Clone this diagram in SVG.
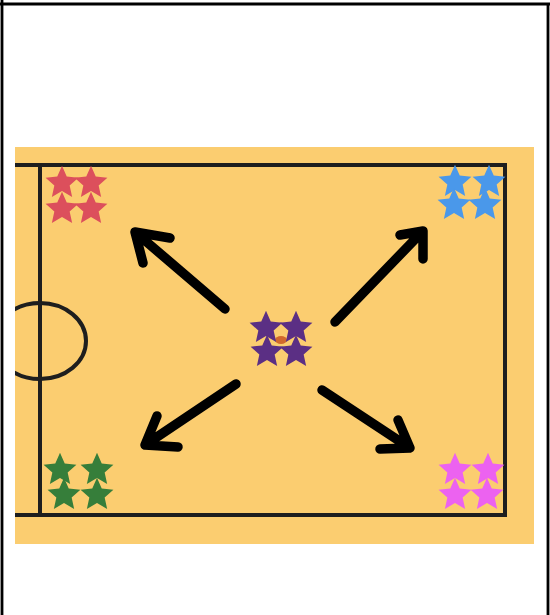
<svg xmlns="http://www.w3.org/2000/svg" xmlns:xlink="http://www.w3.org/1999/xlink" width="550" height="615" viewBox="0 0 550 615">
  <style>
    .frame { stroke: #000; stroke-width: 2.8; fill: none; }
    .court { stroke: #1e1e1e; stroke-width: 4; fill: none; }
    .arrow { stroke: #000; stroke-width: 9.5; fill: none; stroke-linecap: round; stroke-linejoin: round; }
    .red { fill: #dc4f5c; }
    .blue { fill: #4a98ea; }
    .purple { fill: #5b2f84; }
    .green { fill: #367e3a; }
    .pink { fill: #ec62f0; }
  </style>
  <defs>
    <path id="star" transform="scale(1.15)" d="M0,-15 L4.11,-5.66 L14.27,-4.64 L6.66,2.16 L8.82,12.14 L0,7 L-8.82,12.14 L-6.66,2.16 L-14.27,-4.64 L-4.11,-5.66 Z"/>
  </defs>
  <rect x="0" y="0" width="550" height="615" fill="#fff"/>
  <g id="frame">
    <line class="frame" x1="0" y1="4" x2="550" y2="4"/>
    <line class="frame" x1="2" y1="0" x2="2" y2="615"/>
    <line class="frame" x1="548" y1="4" x2="548" y2="615"/>
  </g>
  <g id="court">
    <rect x="15" y="147" width="519" height="397" fill="#fbcd70"/>
    <clipPath id="cclip"><rect x="15" y="147" width="519" height="397"/></clipPath>
    <g clip-path="url(#cclip)">
      <polyline class="court" points="15,165 505,165 505,515 15,515"/>
      <line class="court" x1="40" y1="165" x2="40" y2="515"/>
      <ellipse class="court" cx="40" cy="341" rx="46" ry="38" stroke-width="3"/>
    </g>
  </g>
  <g id="team-red">
    <use xlink:href="#star" class="red" x="62" y="183"/>
    <use xlink:href="#star" class="red" x="91" y="183"/>
    <use xlink:href="#star" class="red" x="62" y="209"/>
    <use xlink:href="#star" class="red" x="91" y="209"/>
  </g>
  <g id="team-blue">
    <use xlink:href="#star" class="blue" x="455" y="182"/>
    <use xlink:href="#star" class="blue" x="489" y="182"/>
    <use xlink:href="#star" class="blue" x="454" y="205"/>
    <use xlink:href="#star" class="blue" x="485" y="205"/>
  </g>
  <g id="team-center">
    <ellipse cx="281" cy="340" rx="6" ry="4" fill="#d2692c"/>
    <use xlink:href="#star" class="purple" x="266" y="328"/>
    <use xlink:href="#star" class="purple" x="296" y="328"/>
    <use xlink:href="#star" class="purple" x="267" y="352"/>
    <use xlink:href="#star" class="purple" x="296" y="352"/>
  </g>
  <g id="team-green">
    <use xlink:href="#star" class="green" x="60" y="470"/>
    <use xlink:href="#star" class="green" x="97" y="470"/>
    <use xlink:href="#star" class="green" x="64" y="495"/>
    <use xlink:href="#star" class="green" x="97" y="495"/>
  </g>
  <g id="team-pink">
    <use xlink:href="#star" class="pink" x="455" y="470"/>
    <use xlink:href="#star" class="pink" x="488" y="470"/>
    <use xlink:href="#star" class="pink" x="455" y="495"/>
    <use xlink:href="#star" class="pink" x="487" y="495"/>
  </g>
  <g id="connectors">
    <path class="arrow" d="M225,309 L135,232 M170,238 L135,232 L143,263"/>
    <path class="arrow" d="M335,322 L423,231 M400,235 L423,231 L423,259"/>
    <path class="arrow" d="M236,384 L145,445 M157,416 L145,445 L178,447"/>
    <path class="arrow" d="M322,390 L410,448 M398,420 L410,448 L380,449"/>
  </g>
</svg>
